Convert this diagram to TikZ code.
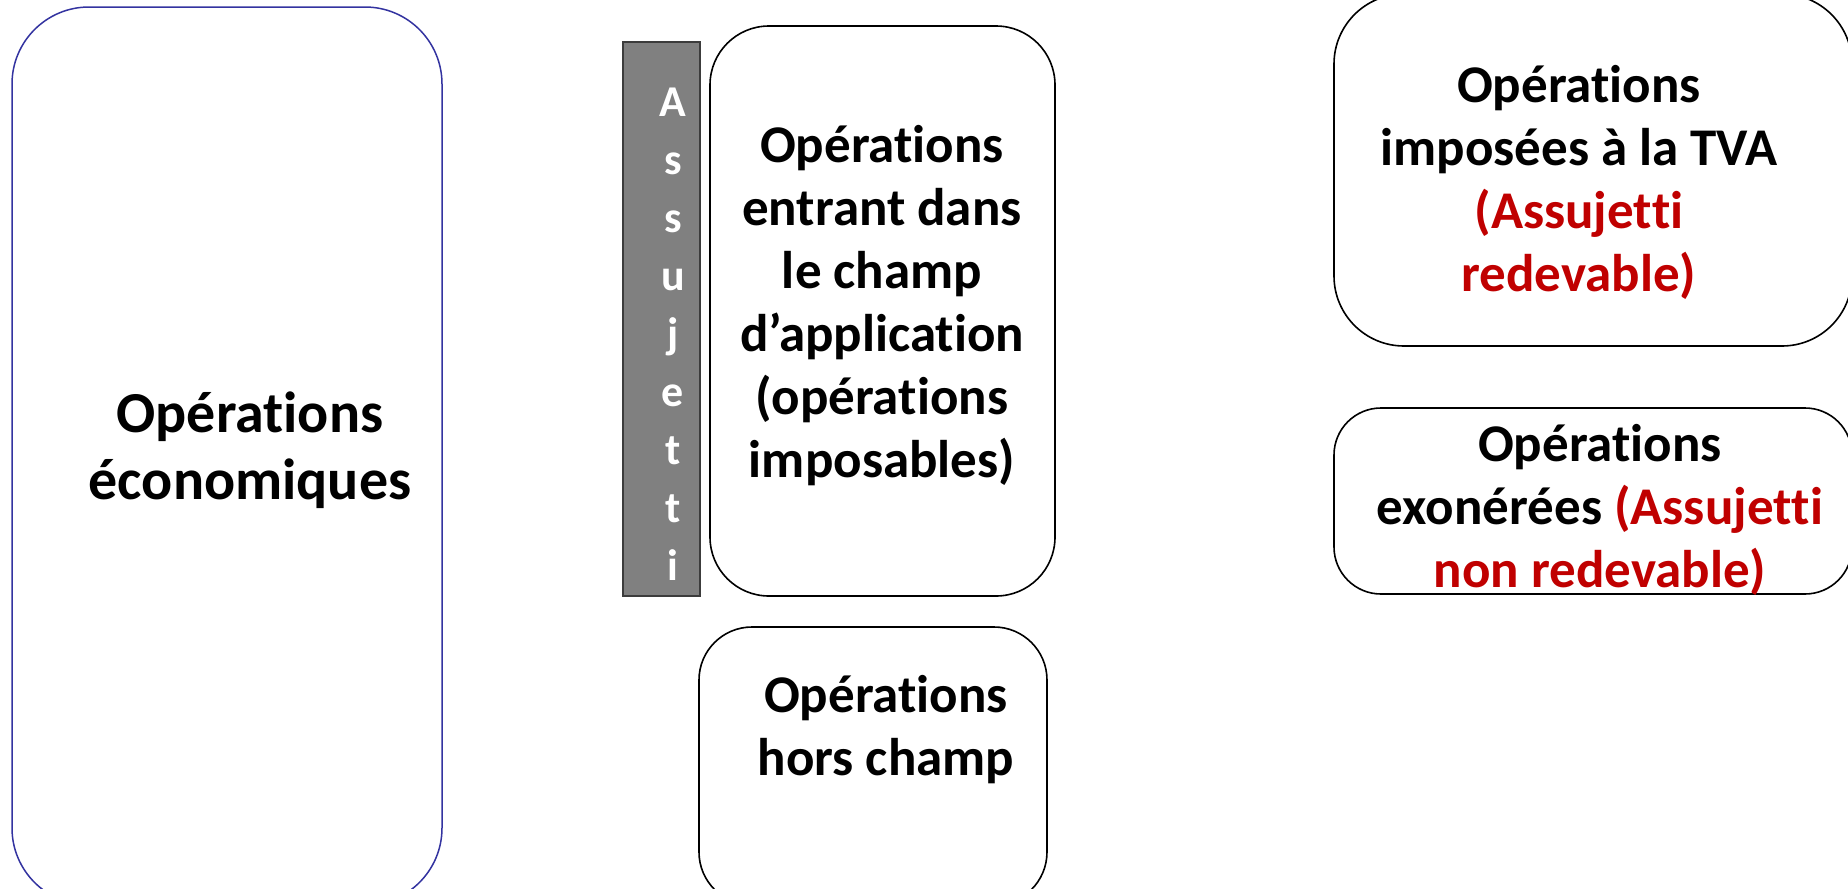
\documentclass[tikz,border=0pt]{standalone}
\usepackage{fontspec}
\setmainfont{Carlito}
\newcommand\zk{\kern0pt }
\definecolor{boxblue}{RGB}{51,51,160}
\definecolor{redtxt}{RGB}{192,0,0}
\definecolor{bargray}{RGB}{128,128,128}
\definecolor{bardark}{RGB}{60,60,60}
\begin{document}
\begin{tikzpicture}[x=1pt,y=-1pt,
  box/.style={draw=black, line width=1.6pt, fill=white, rounded corners=#1, inner sep=0pt},
  box/.default=50pt,
  lbl/.style={align=center, inner sep=0pt, font=\bfseries\fontsize{53}{63}\selectfont}]
\useasboundingbox (0,0) rectangle (1848,889);
\clip (0,0) rectangle (1848,889);
% boxes
\node[box=77pt, draw=boxblue, line width=1.5pt, minimum width=430pt, minimum height=898pt] (eco) at (227,456) {};
\node[draw=bardark, fill=bargray, line width=1.4pt, minimum width=77pt, minimum height=554pt, inner sep=0pt] (bar) at (661.5,319) {};
\node[box=59pt, minimum width=345pt, minimum height=570pt] (champ) at (882.5,311) {};
\node[box=53pt, minimum width=348pt, minimum height=278pt] (hors) at (873,766) {};
\node[box=70pt, minimum width=518pt, minimum height=352pt] (impo) at (1593,170) {};
\node[box=47pt, minimum width=518pt, minimum height=186pt] (exo) at (1593,501) {};
% texts
\node[lbl, font=\bfseries\fontsize{58}{67}\selectfont] (tEco) at (250,450) {Opérat\zk ions\\économiques};
\node[align=center, inner sep=0pt, text=white, font=\bfseries\fontsize{44}{58}\selectfont] (tBar) at (673,334) {A\\s\\s\\u\\j\\e\\t\\t\\i};
\node[lbl] (tChamp) at (882,306) {Opérat\zk ions\\entrant dans\\le champ\\d’applicat\zk ion\\(opérat\zk ions\\imposables)};
\node[lbl] (tHors) at (886,730) {Opérat\zk ions\\hors champ};
\node[lbl] (tImpo) at (1579,182) {Opérat\zk ions\\imposées à la TVA\\\textcolor{redtxt}{(Assujet\zk t\zk i}\\\textcolor{redtxt}{redevable)}};
\node[lbl] (tExo) at (1600,510) {Opérat\zk ions\\exonérées \textcolor{redtxt}{(Assujet\zk t\zk i}\\\textcolor{redtxt}{non redevable)}};
\end{tikzpicture}
\end{document}
